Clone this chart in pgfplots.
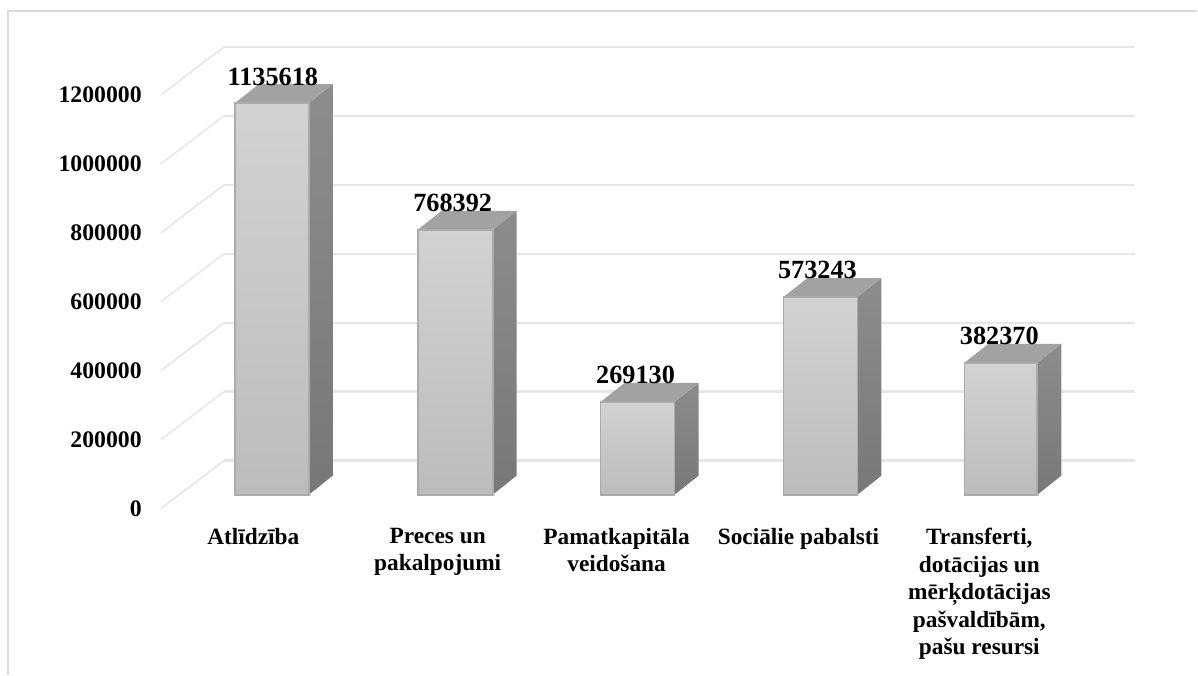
\documentclass[border=0pt]{standalone}
\usepackage{fontspec}
\setmainfont{Liberation Serif}
\usepackage{pgfplots}
\pgfplotsset{compat=1.18}

\definecolor{wallgrid}{HTML}{E6E6E6}
\definecolor{frame}{HTML}{DADADA}
\definecolor{barline}{HTML}{ABABAB}
\definecolor{fronttop}{HTML}{D2D2D2}
\definecolor{frontbot}{HTML}{BCBCBC}
\definecolor{sidetop}{HTML}{8C8C8C}
\definecolor{sidebot}{HTML}{787878}
\definecolor{topface}{HTML}{A2A2A2}

\pgfplotsset{
  gridline/.style={wallgrid, line width=1.9pt},
  front/.style={draw=barline, line width=1.3pt, top color=fronttop, bottom color=frontbot},
  side/.style={draw=none, top color=sidetop, bottom color=sidebot},
  lid/.style={draw=none, fill=topface},
}

\begin{document}
\begin{tikzpicture}
\begin{axis}[
    scale only axis,
    width=898.5pt, height=506.25pt,
    xmin=0, xmax=1198,
    ymin=-521739, ymax=1434783,
    clip=false,
    scaled y ticks=false,
    axis line style={draw=none},
    tick style={draw=none},
    xtick={253.5,438,617,799,980},
    xticklabels={Atlīdzība,
      {Preces un\\pakalpojumi},
      {Pamatkapitāla\\veidošana},
      {Sociālie pabalsti},
      {Transferti,\\dotācijas un\\mērķdotācijas\\pašvaldībām,\\pašu resursi}},
    xticklabel style={font=\fontsize{17.5}{20.6}\selectfont\bfseries, align=center, anchor=north, inner sep=0pt, yshift=110pt},
    ytick={0,200000,400000,600000,800000,1000000,1200000},
    yticklabels={0,200000,400000,600000,800000,1000000,1200000},
    yticklabel style={font=\fontsize{17.8}{20}\selectfont\bfseries, anchor=east, inner sep=0pt, xshift=106.5pt, yshift=-10.5pt},
]
% outer frame
\addplot[frame, line width=1.2pt] coordinates {(8,-521739) (8,1402899) (1198,1402899)};

% wall gridlines, front corner to back wall to right end
\addplot[gridline, line width=1.2pt] coordinates {(161,-40580) (224,98551)};
\addplot[gridline] coordinates {(224,98551) (1136,98551)};
\addplot[gridline, line width=1.2pt] coordinates {(161,159420) (224,298551)};
\addplot[gridline] coordinates {(224,298551) (1136,298551)};
\addplot[gridline, line width=1.2pt] coordinates {(161,359420) (224,498551)};
\addplot[gridline] coordinates {(224,498551) (1136,498551)};
\addplot[gridline, line width=1.2pt] coordinates {(161,559420) (224,698551)};
\addplot[gridline] coordinates {(224,698551) (1136,698551)};
\addplot[gridline, line width=1.2pt] coordinates {(161,759420) (224,898551)};
\addplot[gridline] coordinates {(224,898551) (1136,898551)};
\addplot[gridline, line width=1.2pt] coordinates {(161,959420) (224,1098551)};
\addplot[gridline] coordinates {(224,1098551) (1136,1098551)};
\addplot[gridline, line width=1.2pt] coordinates {(161,1159420) (224,1298551)};
\addplot[gridline] coordinates {(224,1298551) (1136,1298551)};

% Atlidziba
\addplot[side] coordinates {(309,0) (333,55072) (333,1190690) (309,1135618)} --cycle;
\addplot[lid] coordinates {(235,1135618) (259,1190690) (333,1190690) (309,1135618)} --cycle;
\addplot[front] coordinates {(235,0) (235,1135618) (309,1135618) (309,0)} --cycle;
% Preces un pakalpojumi
\addplot[side] coordinates {(493,0) (517,55072) (517,823464) (493,768392)} --cycle;
\addplot[lid] coordinates {(418,768392) (442,823464) (517,823464) (493,768392)} --cycle;
\addplot[front] coordinates {(418,0) (418,768392) (493,768392) (493,0)} --cycle;
% Pamatkapitala veidosana
\addplot[side] coordinates {(675,0) (699,55072) (699,324202) (675,269130)} --cycle;
\addplot[lid] coordinates {(601,269130) (625,324202) (699,324202) (675,269130)} --cycle;
\addplot[front] coordinates {(601,0) (601,269130) (675,269130) (675,0)} --cycle;
% Socialie pabalsti
\addplot[side] coordinates {(858,0) (882,55072) (882,628315) (858,573243)} --cycle;
\addplot[lid] coordinates {(784,573243) (808,628315) (882,628315) (858,573243)} --cycle;
\addplot[front] coordinates {(784,0) (784,573243) (858,573243) (858,0)} --cycle;
% Transferti
\addplot[side] coordinates {(1038,0) (1062,55072) (1062,437442) (1038,382370)} --cycle;
\addplot[lid] coordinates {(965,382370) (989,437442) (1062,437442) (1038,382370)} --cycle;
\addplot[front] coordinates {(965,0) (965,382370) (1038,382370) (1038,0)} --cycle;

% value labels
\addplot[draw=none, mark=none, point meta=explicit symbolic, nodes near coords,
    every node near coord/.style={font=\fontsize{19.7}{22}\selectfont\bfseries, anchor=center, inner sep=0pt, yshift=20pt}]
  coordinates {
    (273,1135618) [1135618]
    (453,768392) [768392]
    (636,269130) [269130]
    (818,573243) [573243]
    (1000,382370) [382370]
  };
\end{axis}
\end{tikzpicture}
\end{document}
